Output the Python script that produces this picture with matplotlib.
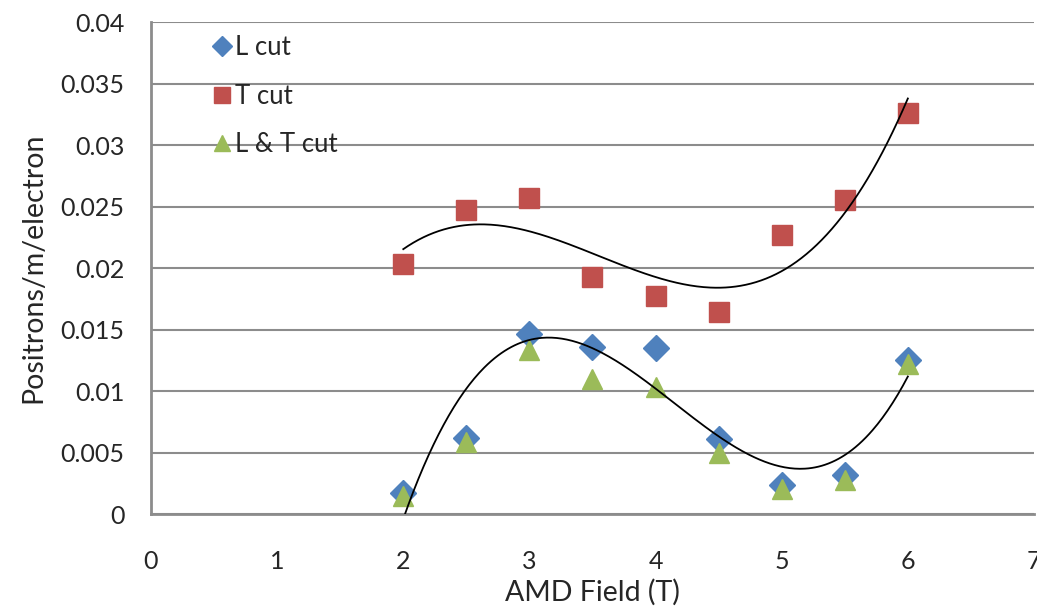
import numpy as np
import matplotlib

matplotlib.use("Agg")
import matplotlib.pyplot as plt

plt.rcParams['font.family'] = ['Lato', 'DejaVu Sans']

FIELD = [2, 2.5, 3, 3.5, 4, 4.5, 5, 5.5, 6]
L_CUT = [0.0017, 0.0062, 0.0146, 0.0136, 0.0135, 0.0061, 0.0024, 0.0032, 0.0125]
T_CUT = [0.0203, 0.0247, 0.0257, 0.0193, 0.0177, 0.0164, 0.0227, 0.0255, 0.0326]
LT_CUT = [0.0015, 0.0059, 0.0133, 0.0110, 0.0103, 0.0050, 0.0020, 0.0028, 0.0122]

X_TICKS = [0, 1, 2, 3, 4, 5, 6, 7]
Y_TICKS = [0, 0.005, 0.01, 0.015, 0.02, 0.025, 0.03, 0.035, 0.04]
Y_LABELS = ['0', '0.005', '0.01', '0.015', '0.02', '0.025', '0.03', '0.035', '0.04']

BLUE = '#4F81BD'
RED = '#C0504D'
GREEN = '#9BBB59'
GRID = '#8C8C8C'
TEXT = '#262626'


def trend(xs, ys, order):
    # cubic trendline over the span of the data
    coef = np.polyfit(xs, ys, order)
    xx = np.linspace(min(xs), max(xs), 300)
    return xx, np.polyval(coef, xx)


fig = plt.figure(figsize=(10.37, 6.12), dpi=100)
ax = fig.add_axes([0.1456, 0.16, 0.8515, 0.804])

ax.set_xlim(0, 7)
ax.set_ylim(0, 0.04)
ax.set_yticks(Y_TICKS)
ax.set_yticklabels(Y_LABELS)
ax.set_xticks(X_TICKS)
ax.tick_params(length=0, labelsize=18, colors=TEXT)
ax.tick_params(axis='y', pad=19)
ax.tick_params(axis='x', pad=26)

ax.grid(axis='y', color=GRID, linewidth=1.5, zorder=0)
for s in ['top', 'right']:
    ax.spines[s].set_visible(False)
for s in ['left', 'bottom']:
    ax.spines[s].set_color(GRID)
    ax.spines[s].set_linewidth(2)

ax.plot(FIELD, L_CUT, 'D', color=BLUE, markersize=13, label='L cut', zorder=3)
ax.plot(FIELD, T_CUT, 's', color=RED, markersize=15, label='T cut', zorder=3)
ax.plot(FIELD, LT_CUT, '^', color=GREEN, markersize=15, label='L & T cut', zorder=4)

xx, yy = trend(FIELD, T_CUT, 3)
ax.plot(xx, yy, color='black', linewidth=1.3, zorder=5)
xx, yy = trend(FIELD, L_CUT, 3)
ax.plot(xx, yy, color='black', linewidth=1.3, zorder=5)

ax.set_xlabel('AMD Field (T)', fontsize=20.5, color=TEXT, labelpad=4)
ax.set_ylabel('Positrons/m/electron', fontsize=20.5, color=TEXT, labelpad=10)

leg = ax.legend(loc='upper left', bbox_to_anchor=(0.05, 1.005), frameon=False,
                fontsize=18.5, labelspacing=0.92, handletextpad=0.05,
                handlelength=0.9, markerscale=0.8, borderaxespad=0.2)
for t in leg.get_texts():
    t.set_color(TEXT)

fig.savefig('out.png')
